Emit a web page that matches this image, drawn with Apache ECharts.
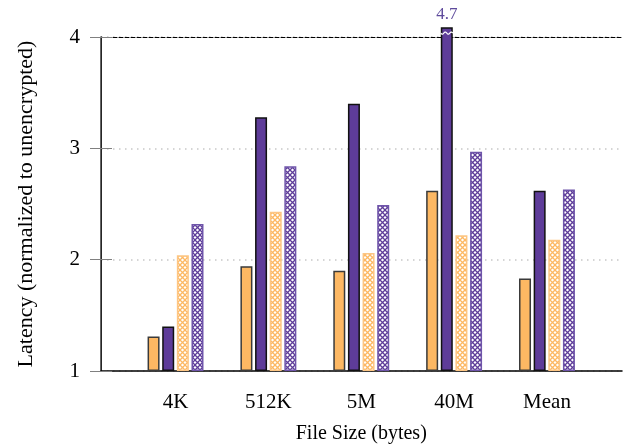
<!DOCTYPE html>
<html><head><meta charset="utf-8">
<script src="https://cdn.jsdelivr.net/npm/echarts@6/dist/echarts.min.js"></script>
<style>html,body{margin:0;padding:0;background:#fff}#c{width:636px;height:447px}</style>
</head><body><div id="c"></div>
<script>
// ---- data ----
const categories = ['4K', '512K', '5M', '40M', 'Mean'];
const orangeSolid   = [1.31, 1.94, 1.90, 2.62, 1.83];
const purpleSolid   = [1.40, 3.28, 3.40, 4.70, 2.62];
const orangeHatched = [2.04, 2.43, 2.06, 2.22, 2.18];
const purpleHatched = [2.32, 2.84, 2.49, 2.97, 2.63];
const yMin = 1, yMax = 4, yInterval = 1;
const xTitle = 'File Size (bytes)';
const yTitle = 'Latency (normalized to unencrypted)';

// ---- style / layout ----
const FONT = '"Liberation Serif", "DejaVu Serif", serif';
const ORANGE = '#fdb863', PURPLE = '#5e3c99';
const clipTop = 4.08;          // bars above the axis max are cut here
const breakAt = 4.035;         // where the white break mark sits
const barW = 12, barGapPct = 22;
const step = barW * (1 + barGapPct / 100);
const purpleOffset = -step / 2;

function hatch(color) {
  const s = 5;
  const c = document.createElement('canvas');
  c.width = s; c.height = s;
  const g = c.getContext('2d');
  g.fillStyle = '#fff'; g.fillRect(0, 0, s, s);
  g.strokeStyle = color; g.lineWidth = 1.3;
  g.beginPath();
  g.moveTo(0, 0); g.lineTo(s, s);
  g.moveTo(s, 0); g.lineTo(0, s);
  g.stroke();
  return { image: c, repeat: 'repeat' };
}

const chart = echarts.init(document.getElementById('c'), null, { renderer: 'canvas' });

const gridA = { left: 101, right: 14, top: 37, bottom: 76, containLabel: false, outerBoundsMode: 'none' };
const pxPerUnit = (447 - 37 - 76) / (yMax - yMin);
const gridB = { left: 129.1, right: 42.6, top: 37 - (clipTop - yMax) * pxPerUnit, bottom: 76, containLabel: false, outerBoundsMode: 'none' };

const breakData = purpleSolid.map((v, i) => v > yMax ? [i, breakAt] : null).filter(d => d);

const option = {
  animation: false,
  backgroundColor: '#fff',
  textStyle: { fontFamily: FONT },
  grid: [gridA, gridB],
  xAxis: [
    { gridIndex: 0, type: 'value', min: 0, max: 1, position: 'bottom',
      axisLine: { show: true, lineStyle: { color: '#000', width: 1.5 } },
      axisTick: { show: false }, axisLabel: { show: false }, splitLine: { show: false } },
    { gridIndex: 1, type: 'category', data: categories, position: 'bottom',
      axisLine: { show: false }, axisTick: { show: false },
      axisLabel: { color: '#000', fontSize: 21, fontFamily: FONT, margin: 21 },
      name: xTitle, nameLocation: 'middle', nameGap: 53,
      nameTextStyle: { color: '#000', fontSize: 20, fontFamily: FONT } },
    { gridIndex: 0, type: 'value', min: 0, max: 1, position: 'top',
      axisLine: { show: true, lineStyle: { color: '#000', width: 1, type: [4, 2] } },
      axisTick: { show: false }, axisLabel: { show: false }, splitLine: { show: false } }
  ],
  yAxis: [
    { gridIndex: 0, type: 'value', min: yMin, max: yMax, interval: yInterval, position: 'left',
      axisLine: { show: true, lineStyle: { color: '#000', width: 1 } },
      axisTick: { show: true, inside: false, length: 11, lineStyle: { color: '#808080', width: 1 } },
      axisLabel: { color: '#000', fontSize: 21, fontFamily: FONT, margin: 21 },
      splitLine: { show: true, lineStyle: { color: '#c8c8c8', width: 1.5, type: [1.5, 4.5] } },
      name: yTitle, nameLocation: 'middle', nameGap: 64, nameRotate: 90,
      nameTextStyle: { color: '#000', fontSize: 22, fontFamily: FONT } },
    { gridIndex: 0, type: 'value', min: yMin, max: yMax, interval: yInterval, position: 'right',
      axisLine: { show: true, lineStyle: { color: '#333', width: 1.5 } },
      axisTick: { show: true, inside: false, length: 11, lineStyle: { color: '#808080', width: 1 } },
      axisLabel: { show: false }, splitLine: { show: false } },
    { gridIndex: 1, type: 'value', min: yMin, max: clipTop, startValue: yMin, show: false,
      splitLine: { show: false } }
  ],
  series: [
    { type: 'bar', xAxisIndex: 1, yAxisIndex: 2, data: orangeSolid, barWidth: barW, barGap: barGapPct + '%',
      itemStyle: { color: ORANGE, borderColor: '#3a3a3a', borderWidth: 1.5 } },
    { type: 'bar', xAxisIndex: 1, yAxisIndex: 2, data: purpleSolid, barWidth: barW, barGap: barGapPct + '%',
      itemStyle: { color: PURPLE, borderColor: '#111', borderWidth: 1.5 },
      label: { show: true, position: 'top', distance: 4, color: '#5e4a9c', fontSize: 17, fontFamily: FONT,
               formatter: p => (p.value > yMax ? p.value.toFixed(1) : '') } },
    { type: 'bar', xAxisIndex: 1, yAxisIndex: 2, data: orangeHatched, barWidth: barW, barGap: barGapPct + '%',
      itemStyle: { color: hatch('#fdb863'), borderColor: '#fdc684', borderWidth: 1.5 } },
    { type: 'bar', xAxisIndex: 1, yAxisIndex: 2, data: purpleHatched, barWidth: barW, barGap: barGapPct + '%',
      itemStyle: { color: hatch('#5e3c99'), borderColor: '#6f55aa', borderWidth: 1.5 } },
    { type: 'custom', xAxisIndex: 1, yAxisIndex: 2, data: breakData, z: 10, silent: true,
      renderItem: function (params, api) {
        const c = api.coord([api.value(0), api.value(1)]);
        const cx = c[0] + purpleOffset;
        const pts = [];
        for (let k = 0; k <= 20; k++) {
          const x = cx - barW / 2 + barW * k / 20;
          pts.push([x, c[1] + 1.1 * Math.sin(k / 20 * Math.PI * 4)]);
        }
        return { type: 'polyline', shape: { points: pts }, style: { stroke: '#fff', lineWidth: 1.2, fill: null } };
      } }
  ]
};
chart.setOption(option);
</script>
</body></html>
